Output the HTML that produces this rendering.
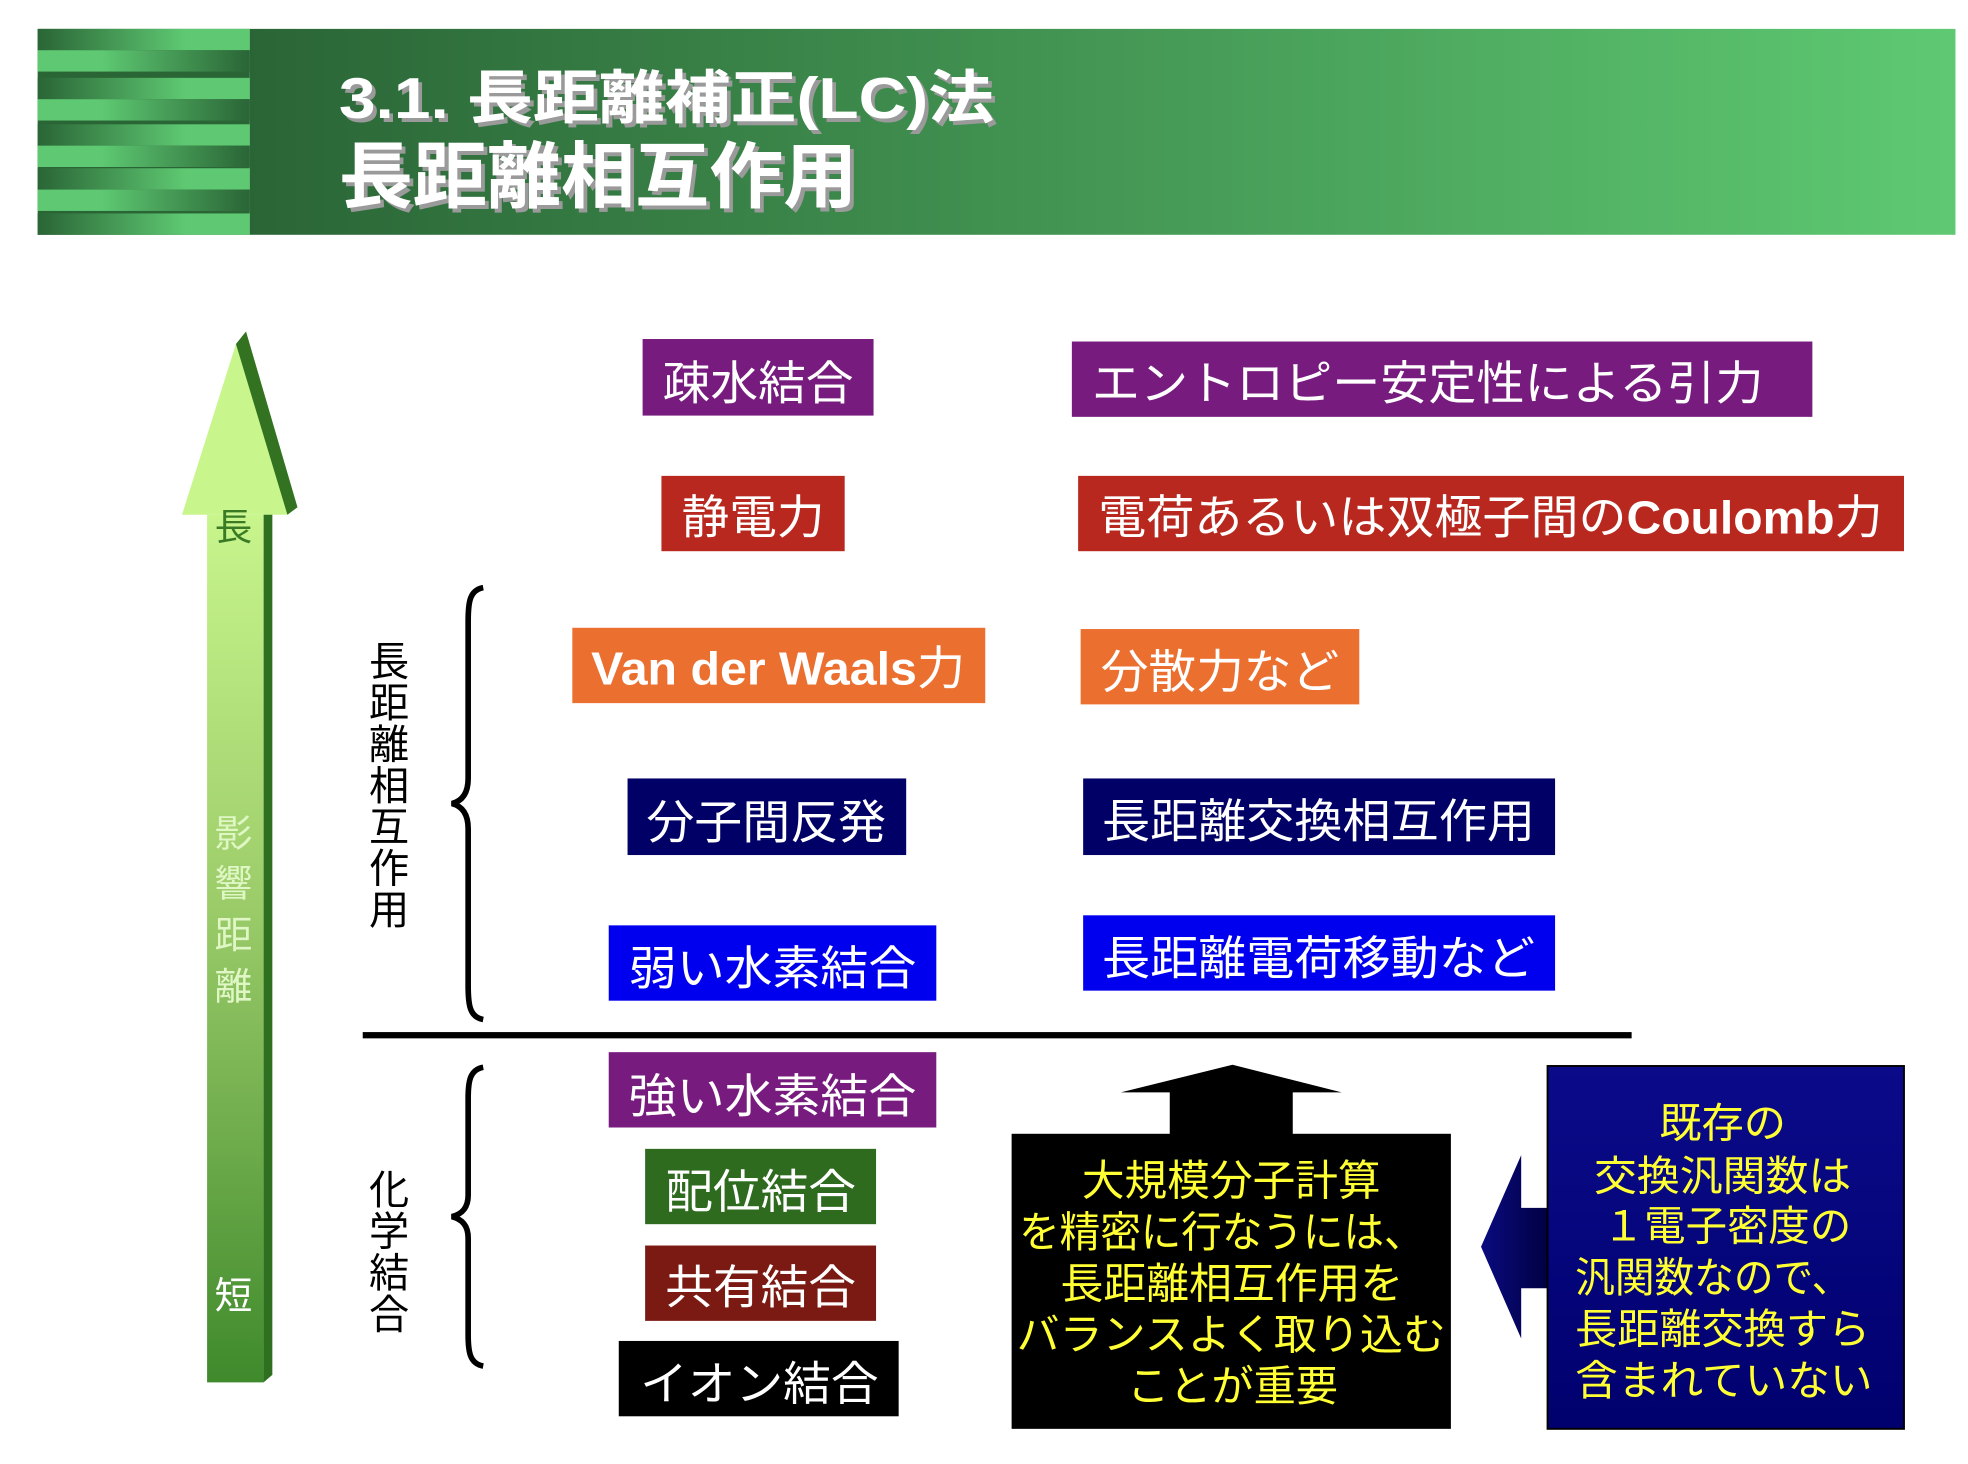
<!DOCTYPE html>
<html><head><meta charset="utf-8"><style>
html,body{margin:0;padding:0;background:#fff;width:1968px;height:1464px;overflow:hidden}
svg{display:block}
text{font-family:"Liberation Sans","Noto Sans CJK JP",sans-serif}
</style></head><body>
<svg width="1968" height="1464" viewBox="0 0 1568 1166" preserveAspectRatio="none" xmlns="http://www.w3.org/2000/svg">
<defs>
<linearGradient id="hdr" x1="0" x2="1" y1="0" y2="0"><stop offset="0" stop-color="#2a6536"/><stop offset="1" stop-color="#5ec972"/></linearGradient>
<linearGradient id="sA" x1="0" x2="1"><stop offset="0" stop-color="#2a6536"/><stop offset="0.7" stop-color="#5ec972"/></linearGradient>
<linearGradient id="sB" x1="0" x2="1"><stop offset="0.3" stop-color="#5ec972"/><stop offset="1" stop-color="#2a6536"/></linearGradient>
<linearGradient id="shaft" x1="0" x2="0" y1="0" y2="1"><stop offset="0" stop-color="#c8f58c"/><stop offset="0.45" stop-color="#9ccc6a"/><stop offset="1" stop-color="#3f8a2c"/></linearGradient>
<linearGradient id="navy" x1="0" x2="0" y1="0" y2="1"><stop offset="0" stop-color="#0b0b8a"/><stop offset="1" stop-color="#00006e"/></linearGradient>
<linearGradient id="navyL" x1="0" x2="1"><stop offset="0" stop-color="#0a0a80"/><stop offset="1" stop-color="#000040"/></linearGradient>
</defs>
<!-- header -->
<rect x="199" y="23" width="1359" height="164" fill="url(#hdr)"/>
<rect x="30" y="23" width="169" height="164" fill="#2a6536"/>
<g>
<rect x="30" y="23" width="169" height="17" fill="url(#sA)"/>
<rect x="30" y="40" width="169" height="17" fill="url(#sB)"/>
<rect x="30" y="62" width="169" height="17" fill="url(#sA)"/>
<rect x="30" y="79" width="169" height="17" fill="url(#sB)"/>
<rect x="30" y="99" width="169" height="17" fill="url(#sA)"/>
<rect x="30" y="116" width="169" height="17" fill="url(#sB)"/>
<rect x="30" y="134" width="169" height="17" fill="url(#sA)"/>
<rect x="30" y="151" width="169" height="17" fill="url(#sB)"/>
<rect x="30" y="170" width="169" height="17" fill="url(#sA)"/>
</g>
<text x="273" y="97" font-size="46" font-weight="bold" fill="#9a9a9a" textLength="522" lengthAdjust="spacingAndGlyphs">3.1. 長距離補正(LC)法</text>
<text x="270" y="94" font-size="46" font-weight="bold" fill="#fff" textLength="522" lengthAdjust="spacingAndGlyphs">3.1. 長距離補正(LC)法</text>
<text x="273" y="164" font-size="58" font-weight="bold" fill="#9a9a9a" textLength="413" lengthAdjust="spacingAndGlyphs">長距離相互作用</text>
<text x="270" y="161" font-size="58" font-weight="bold" fill="#fff" textLength="413" lengthAdjust="spacingAndGlyphs">長距離相互作用</text>
<!-- big arrow -->
<polygon points="210,410 217,404 217,1095 210,1101" fill="#2f7020"/>
<rect x="165" y="410" width="45" height="691" fill="url(#shaft)"/>
<polygon points="145,410 188,274 196,264 237,404 229,410" fill="#c8f58c"/>
<polygon points="188,274 196,264 237,404 229,410" fill="#337220"/>
<text x="186" y="430" font-size="30" fill="#3a7a25" text-anchor="middle">長</text>
<g font-size="30" fill="#dff7c4" text-anchor="middle">
<text x="186" y="674">影</text><text x="186" y="714">響</text><text x="186" y="755">距</text><text x="186" y="796">離</text>
<text x="186" y="1042" fill="#fff">短</text></g>
<!-- vertical labels -->
<g font-size="32" fill="#000" text-anchor="middle">
<text x="310" y="538">長</text><text x="310" y="571">距</text><text x="310" y="604">離</text><text x="310" y="637">相</text><text x="310" y="670">互</text><text x="310" y="703">作</text><text x="310" y="736">用</text>
<text x="310" y="959">化</text><text x="310" y="992">学</text><text x="310" y="1025">結</text><text x="310" y="1058">合</text></g>
<!-- braces -->
<path d="M385,468 C374,470 373,480 373,495 L373,620 C373,632 368,638 360,640 C368,642 373,648 373,660 L373,785 C373,800 374,810 385,812" fill="none" stroke="#000" stroke-width="4.5"/>
<path d="M385,850 C374,852 373,862 373,875 L373,952 C373,962 368,967 360,969 C368,971 373,976 373,986 L373,1063 C373,1076 374,1086 385,1088" fill="none" stroke="#000" stroke-width="4.5"/>
<rect x="289" y="822" width="1011" height="5" fill="#000"/>
<!-- boxes -->
<g font-size="37" fill="#fff">
<rect x="512" y="270" width="184" height="61" fill="#771c7e"/><text x="528" y="318" textLength="152" lengthAdjust="spacingAndGlyphs">疎水結合</text>
<rect x="854" y="272" width="590" height="60" fill="#771c7e"/><text x="870" y="318" textLength="535" lengthAdjust="spacingAndGlyphs">エントロピー安定性による引力</text>
<rect x="527" y="379" width="146" height="60" fill="#b8281f"/><text x="543" y="425" textLength="114" lengthAdjust="spacingAndGlyphs">静電力</text>
<rect x="859" y="379" width="658" height="60" fill="#b8281f"/><text x="875" y="425" textLength="625" lengthAdjust="spacingAndGlyphs">電荷あるいは双極子間の<tspan font-weight="bold">Coulomb</tspan>力</text>
<rect x="456" y="500" width="329" height="60" fill="#eb6f2f"/><text x="471" y="545" font-weight="bold" textLength="298" lengthAdjust="spacingAndGlyphs">Van der Waals<tspan font-weight="normal">力</tspan></text>
<rect x="861" y="501" width="222" height="60" fill="#eb6f2f"/><text x="877" y="548" textLength="190" lengthAdjust="spacingAndGlyphs">分散力など</text>
<rect x="500" y="620" width="222" height="61" fill="#000066"/><text x="515" y="668" textLength="191" lengthAdjust="spacingAndGlyphs">分子間反発</text>
<rect x="863" y="620" width="376" height="61" fill="#000066"/><text x="878" y="667" textLength="345" lengthAdjust="spacingAndGlyphs">長距離交換相互作用</text>
<rect x="485" y="737" width="261" height="60" fill="#0000ee"/><text x="501" y="784" textLength="229" lengthAdjust="spacingAndGlyphs">弱い水素結合</text>
<rect x="863" y="729" width="376" height="60" fill="#0000ee"/><text x="878" y="776" textLength="345" lengthAdjust="spacingAndGlyphs">長距離電荷移動など</text>
<rect x="485" y="838" width="261" height="60" fill="#771c7e"/><text x="501" y="886" textLength="229" lengthAdjust="spacingAndGlyphs">強い水素結合</text>
<rect x="514" y="915" width="184" height="60" fill="#2e6b1f"/><text x="530" y="962" textLength="152" lengthAdjust="spacingAndGlyphs">配位結合</text>
<rect x="514" y="992" width="184" height="60" fill="#7b1a12"/><text x="530" y="1038" textLength="152" lengthAdjust="spacingAndGlyphs">共有結合</text>
<rect x="493" y="1068" width="223" height="60" fill="#000"/><text x="510" y="1115" textLength="190" lengthAdjust="spacingAndGlyphs">イオン結合</text>
</g>
<!-- up arrow + black box -->
<polygon points="982,848 1069,870 1030,870 1030,905 932,905 932,870 893,870" fill="#000"/>
<rect x="806" y="903" width="350" height="235" fill="#000"/>
<g font-size="34" fill="#ffff33">
<text x="862" y="952" textLength="238" lengthAdjust="spacingAndGlyphs">大規模分子計算</text>
<text x="812" y="993" textLength="323" lengthAdjust="spacingAndGlyphs">を精密に行なうには、</text>
<text x="845" y="1034" textLength="273" lengthAdjust="spacingAndGlyphs">長距離相互作用を</text>
<text x="810" y="1075" textLength="342" lengthAdjust="spacingAndGlyphs">バランスよく取り込む</text>
<text x="898" y="1116" textLength="168" lengthAdjust="spacingAndGlyphs">ことが重要</text>
</g>
<!-- left arrow + navy box -->
<polygon points="1180,993 1212,920 1212,962 1236,962 1236,1026 1212,1026 1212,1066" fill="url(#navyL)"/>
<rect x="1233" y="849" width="284" height="289" fill="url(#navy)" stroke="#000" stroke-width="1.5"/>
<g font-size="33" fill="#ffff33">
<text x="1322" y="906" textLength="101" lengthAdjust="spacingAndGlyphs">既存の</text>
<text x="1270" y="948" textLength="205" lengthAdjust="spacingAndGlyphs">交換汎関数は</text>
<text x="1277" y="988" textLength="198" lengthAdjust="spacingAndGlyphs">１電子密度の</text>
<text x="1255" y="1029" textLength="220" lengthAdjust="spacingAndGlyphs">汎関数なので、</text>
<text x="1255" y="1070" textLength="235" lengthAdjust="spacingAndGlyphs">長距離交換すら</text>
<text x="1255" y="1111" textLength="237" lengthAdjust="spacingAndGlyphs">含まれていない</text>
</g>
</svg>
</body></html>
